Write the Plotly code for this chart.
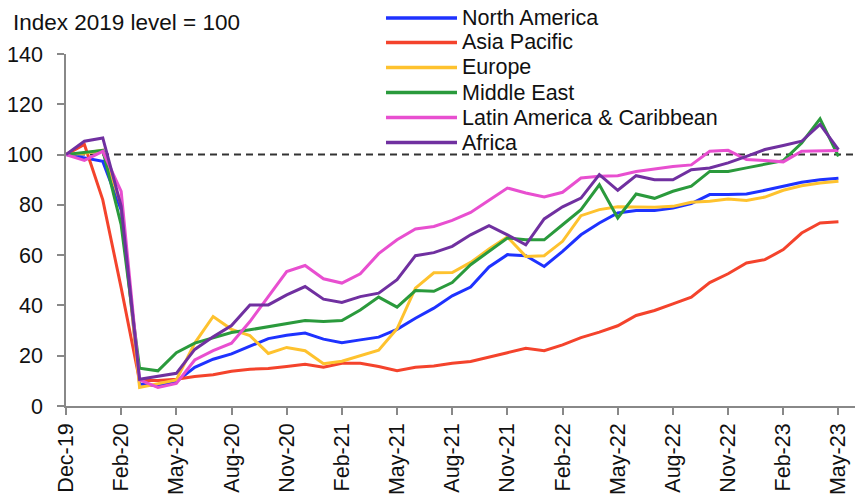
import plotly.graph_objects as go

tick_labels = ["Dec-19", "Feb-20", "May-20", "Aug-20", "Nov-20", "Feb-21", "May-21", "Aug-21",
               "Nov-21", "Feb-22", "May-22", "Aug-22", "Nov-22", "Feb-23", "May-23"]
months = list(range(43))

north_america = [100, 98.7, 97.3, 78, 8.8, 8, 9.7, 15.4, 18.6, 20.7, 23.6, 26.8, 28.1, 29, 26.6, 25.2,
                 26.3, 27.4, 30.5, 34.9, 38.9, 43.8, 47.3, 55.3, 60.2, 59.8, 55.5, 61.5, 68.1, 72.8,
                 76.8, 77.8, 77.8, 78.7, 80.5, 84.1, 84.1, 84.3, 85.8, 87.4, 89, 90, 90.6]
asia_pacific = [100, 104, 82, 47, 10.1, 10.1, 10.6, 11.7, 12.4, 13.8, 14.6, 14.9, 15.7, 16.6, 15.4, 17,
                17, 15.7, 14, 15.4, 15.9, 17, 17.7, 19.6, 21.2, 23, 22, 24.3, 27.2, 29.4, 31.9, 36,
                38, 40.6, 43.3, 49.1, 52.6, 56.9, 58.2, 62.2, 68.8, 72.8, 73.3]
europe = [100, 100.5, 101.7, 80, 7.4, 9, 10.4, 25, 35.6, 30.5, 28, 20.9, 23.3, 22, 16.8, 17.8, 20.1,
          22.2, 30.7, 46.9, 53, 53.1, 57.1, 62.4, 67.2, 59.5, 59.8, 65.5, 75.7, 78.1, 79.2, 79.1, 79,
          79.4, 81, 81.4, 82.3, 81.7, 83.1, 85.8, 87.6, 88.7, 89.4]
middle_east = [100, 100.7, 101.7, 72, 15, 14, 21.2, 25, 27, 29.2, 30.3, 31.6, 32.9, 34, 33.6, 34, 38.2,
               43.3, 39.3, 45.9, 45.6, 49.1, 56.2, 61.5, 66.8, 66.1, 66.1, 72.1, 78.1, 88, 74.8, 84.3,
               82.6, 85.4, 87.4, 93.3, 93.3, 94.7, 96, 97.6, 104.6, 114.2, 99.3]
latin_america = [100, 97.7, 101.3, 85.4, 10.4, 7.4, 9, 18.3, 22, 25, 33.6, 43.5, 53.5, 55.9, 50.6, 48.9,
                 52.6, 60.6, 66.1, 70.4, 71.4, 73.8, 77, 81.8, 86.7, 84.7, 83.1, 85, 90.7, 91.4, 91.6,
                 93.3, 94.3, 95.3, 95.9, 101.3, 101.7, 98, 97.6, 97.1, 101.3, 101.3, 101.6]
africa = [100, 105.3, 106.6, 79.4, 10.6, 11.7, 13, 22.5, 27.5, 32, 40.2, 40.2, 44.2, 47.5, 42.5, 41.2,
          43.5, 44.9, 50.2, 59.8, 61, 63.5, 68.1, 71.7, 68.1, 64.1, 74.4, 79.2, 82.7, 92, 85.8, 91.6,
          90, 90, 94, 94.7, 96.7, 99.3, 102, 103.6, 105.3, 112, 102]

series_names = ["North America", "Asia Pacific", "Europe", "Middle East",
                "Latin America & Caribbean", "Africa"]
series_values = [north_america, asia_pacific, europe, middle_east, latin_america, africa]
series_colors = ["#1e32ff", "#f4432c", "#fec22e", "#2a9a3c", "#e84fd0", "#7030a0"]

FONT = "Liberation Sans, Arial, sans-serif"
TXT = "#111111"

# The page body has an 8px margin, so the figure is drawn 8px in from the window corner.
OFF = 8
W, H = 865 - OFF, 495 - OFF
# target plot box in window pixels: x 66..855, y 54..406
L, T = 66 - OFF, 54 - OFF
R = W - (855 - OFF)
B = H - (406 - OFF)
PW, PH = W - L - R, H - T - B


def px_to_paper_x(px):
    return (px - OFF - L) / PW


def py_to_paper_y(py):
    return (H - B - (py - OFF)) / PH


fig = go.Figure()
for name, vals, col in zip(series_names, series_values, series_colors):
    fig.add_trace(go.Scatter(x=months, y=vals, mode="lines", name=name,
                             line=dict(color=col, width=3), showlegend=False))

fig.add_shape(type="line", xref="paper", x0=0, x1=1, yref="y", y0=100, y1=100,
              line=dict(color="#333333", width=2, dash="7px,5px"), layer="below")

# legend drawn as line samples + text, one row per series
legend_rows_py = [18, 42.5, 67.5, 92.5, 117.5, 142.5]
for name, col, py in zip(series_names, series_colors, legend_rows_py):
    yp = py_to_paper_y(py)
    fig.add_shape(type="line", xref="paper", yref="paper",
                  x0=px_to_paper_x(386), x1=px_to_paper_x(457), y0=yp, y1=yp,
                  line=dict(color=col, width=3.5))
    fig.add_annotation(text=name, xref="paper", yref="paper", x=px_to_paper_x(461), y=yp,
                       xanchor="left", yanchor="middle", showarrow=False, borderpad=0,
                       font=dict(family=FONT, size=21.5, color=TXT))

fig.update_layout(
    width=W, height=H,
    margin=dict(l=L, r=R, t=T, b=B, pad=0),
    paper_bgcolor="white", plot_bgcolor="white",
    font=dict(family=FONT, size=21, color=TXT),
    title=dict(text="Index 2019 level = 100", x=(13 - OFF) / W, xanchor="left", xref="container",
               y=1 - (22 - OFF) / H, yanchor="middle", yref="container",
               font=dict(family=FONT, size=22.5, color=TXT)),
    showlegend=False,
    xaxis=dict(range=[0, 42.9], tickmode="array", tickvals=list(range(0, 43, 3)),
               ticktext=tick_labels, tickangle=-90, showgrid=False, zeroline=False,
               showline=True, linecolor="#888888", linewidth=1.5, automargin=False,
               ticks="outside", ticklen=7, tickcolor="#888888", tickwidth=1.5,
               tickfont=dict(family=FONT, size=21.5, color=TXT)),
    yaxis=dict(range=[0, 140], tickmode="array", tickvals=[0, 20, 40, 60, 80, 100, 120, 140],
               showgrid=False, zeroline=False, showline=True, linecolor="#888888", linewidth=1.5,
               automargin=False, ticklabelstandoff=10,
               ticks="outside", ticklen=7, tickcolor="#888888", tickwidth=1.5,
               tickfont=dict(family=FONT, size=21.5, color=TXT)),
)

fig.write_html("out.html")
